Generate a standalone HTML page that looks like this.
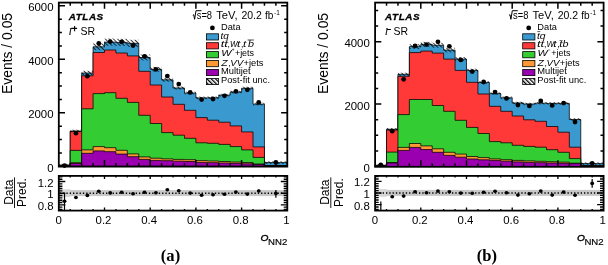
<!DOCTYPE html><html><head><meta charset="utf-8"><style>html,body{margin:0;padding:0;background:#fff;width:608px;height:265px;overflow:hidden}svg{display:block;filter:blur(0.28px)}text{fill:#000}</style></head><body><svg width="608" height="265" viewBox="0 0 608 265"><defs><pattern id="hatch" patternUnits="userSpaceOnUse" width="2.9" height="2.9" patternTransform="rotate(-45)"><rect x="0" y="0" width="0.75" height="2.9" fill="#000"/></pattern><pattern id="hatchL" patternUnits="userSpaceOnUse" width="3.0" height="3.0" patternTransform="rotate(-45)"><rect width="3" height="3" fill="#fff"/><rect x="0" y="0" width="1.3" height="3.0" fill="#000"/></pattern></defs><rect width="608" height="265" fill="#fff"/><path d="M58.8,166.3 L58.8,165.2 L70.22,165.2 L70.22,131 L81.65,131 L81.65,73 L93.08,73 L93.08,46.8 L104.5,46.8 L104.5,42.1 L115.92,42.1 L115.92,42.4 L127.35,42.4 L127.35,43.3 L138.78,43.3 L138.78,57.5 L150.2,57.5 L150.2,69.3 L161.62,69.3 L161.62,79.8 L173.05,79.8 L173.05,88 L184.48,88 L184.48,93 L195.9,93 L195.9,97.9 L207.32,97.9 L207.32,97.8 L218.75,97.8 L218.75,95.1 L230.18,95.1 L230.18,92.1 L241.6,92.1 L241.6,88.3 L253.03,88.3 L253.03,104.1 L264.45,104.1 L264.45,162.6 L287.3,162.6 L287.3,166.3 Z" fill="#3a9ad0" stroke="#000" stroke-width="0.75"/>
<path d="M58.8,166.3 L58.8,165.3 L70.22,165.3 L70.22,131.5 L81.65,131.5 L81.65,75.8 L93.08,75.8 L93.08,52.5 L104.5,52.5 L104.5,50 L115.92,50 L115.92,53 L127.35,53 L127.35,55.9 L138.78,55.9 L138.78,71.3 L150.2,71.3 L150.2,85 L161.62,85 L161.62,97 L173.05,97 L173.05,104.3 L184.48,104.3 L184.48,110.3 L195.9,110.3 L195.9,117.6 L207.32,117.6 L207.32,120.2 L218.75,120.2 L218.75,122.2 L230.18,122.2 L230.18,125.9 L241.6,125.9 L241.6,131.9 L253.03,131.9 L253.03,146.9 L264.45,146.9 L264.45,165.6 L287.3,165.6 L287.3,166.3 Z" fill="#ff3838" stroke="#000" stroke-width="0.75"/>
<path d="M58.8,166.3 L58.8,165.4 L70.22,165.4 L70.22,150.4 L81.65,150.4 L81.65,108.8 L93.08,108.8 L93.08,93.6 L104.5,93.6 L104.5,92.7 L115.92,92.7 L115.92,98.3 L127.35,98.3 L127.35,102.4 L138.78,102.4 L138.78,115.3 L150.2,115.3 L150.2,123.5 L161.62,123.5 L161.62,132.6 L173.05,132.6 L173.05,135.2 L184.48,135.2 L184.48,138.3 L195.9,138.3 L195.9,142.8 L207.32,142.8 L207.32,143.3 L218.75,143.3 L218.75,144.4 L230.18,144.4 L230.18,146.6 L241.6,146.6 L241.6,149.9 L253.03,149.9 L253.03,157.4 L264.45,157.4 L264.45,165.7 L287.3,165.7 L287.3,166.3 Z" fill="#33cc33" stroke="#000" stroke-width="0.75"/>
<path d="M58.8,166.3 L58.8,165.5 L70.22,165.5 L70.22,162.7 L81.65,162.7 L81.65,149.9 L93.08,149.9 L93.08,146.6 L104.5,146.6 L104.5,147.7 L115.92,147.7 L115.92,150.3 L127.35,150.3 L127.35,153.9 L138.78,153.9 L138.78,156.9 L150.2,156.9 L150.2,158.2 L161.62,158.2 L161.62,158.9 L173.05,158.9 L173.05,159.4 L184.48,159.4 L184.48,159.7 L195.9,159.7 L195.9,160.6 L207.32,160.6 L207.32,161 L218.75,161 L218.75,161.5 L230.18,161.5 L230.18,162 L241.6,162 L241.6,162.5 L253.03,162.5 L253.03,164 L264.45,164 L264.45,165.8 L287.3,165.8 L287.3,166.3 Z" fill="#ff9933" stroke="#000" stroke-width="0.75"/>
<path d="M58.8,166.3 L58.8,165.6 L70.22,165.6 L70.22,163.5 L81.65,163.5 L81.65,153.3 L93.08,153.3 L93.08,150.9 L104.5,150.9 L104.5,151.7 L115.92,151.7 L115.92,154.1 L127.35,154.1 L127.35,156.7 L138.78,156.7 L138.78,159.4 L150.2,159.4 L150.2,160.4 L161.62,160.4 L161.62,160.7 L173.05,160.7 L173.05,161.2 L184.48,161.2 L184.48,161.5 L195.9,161.5 L195.9,162.4 L207.32,162.4 L207.32,162.7 L218.75,162.7 L218.75,163 L230.18,163 L230.18,163.3 L241.6,163.3 L241.6,163.8 L253.03,163.8 L253.03,164.5 L264.45,164.5 L264.45,165.9 L287.3,165.9 L287.3,166.3 Z" fill="#9b00b0" stroke="#000" stroke-width="0.75"/>
<rect x="58.8" y="163.9" width="11.42" height="2.6" fill="url(#hatch)"/>
<rect x="70.22" y="129.7" width="11.43" height="2.6" fill="url(#hatch)"/>
<rect x="81.65" y="70.8" width="11.42" height="4.4" fill="url(#hatch)"/>
<rect x="93.08" y="43.42" width="11.42" height="6.76" fill="url(#hatch)"/>
<rect x="104.5" y="38.51" width="11.42" height="7.18" fill="url(#hatch)"/>
<rect x="115.92" y="38.82" width="11.43" height="7.15" fill="url(#hatch)"/>
<rect x="127.35" y="39.77" width="11.42" height="7.07" fill="url(#hatch)"/>
<rect x="138.78" y="54.6" width="11.42" height="5.79" fill="url(#hatch)"/>
<rect x="150.2" y="66.94" width="11.43" height="4.73" fill="url(#hatch)"/>
<rect x="161.62" y="77.91" width="11.43" height="3.79" fill="url(#hatch)"/>
<rect x="173.05" y="86.48" width="11.43" height="3.05" fill="url(#hatch)"/>
<rect x="184.48" y="91.7" width="11.43" height="2.6" fill="url(#hatch)"/>
<rect x="195.9" y="96.6" width="11.42" height="2.6" fill="url(#hatch)"/>
<rect x="207.32" y="96.5" width="11.43" height="2.6" fill="url(#hatch)"/>
<rect x="218.75" y="93.8" width="11.43" height="2.6" fill="url(#hatch)"/>
<rect x="230.18" y="90.76" width="11.43" height="2.68" fill="url(#hatch)"/>
<rect x="241.6" y="86.79" width="11.43" height="3.02" fill="url(#hatch)"/>
<rect x="253.03" y="102.8" width="11.42" height="2.6" fill="url(#hatch)"/>
<rect x="264.45" y="161.3" width="22.85" height="2.6" fill="url(#hatch)"/>
<circle cx="64.51" cy="165.6" r="2.4" fill="#000"/>
<circle cx="75.94" cy="133.2" r="2.4" fill="#000"/>
<circle cx="87.36" cy="76.2" r="2.4" fill="#000"/>
<circle cx="98.79" cy="43.5" r="2.4" fill="#000"/>
<circle cx="110.21" cy="41.6" r="2.4" fill="#000"/>
<circle cx="121.64" cy="41.9" r="2.4" fill="#000"/>
<circle cx="133.06" cy="45.5" r="2.4" fill="#000"/>
<circle cx="144.49" cy="56.4" r="2.4" fill="#000"/>
<circle cx="155.91" cy="69.3" r="2.4" fill="#000"/>
<circle cx="167.34" cy="76.1" r="2.4" fill="#000"/>
<circle cx="178.76" cy="84.1" r="2.4" fill="#000"/>
<circle cx="190.19" cy="92.4" r="2.4" fill="#000"/>
<circle cx="201.61" cy="99.6" r="2.4" fill="#000"/>
<circle cx="213.04" cy="99" r="2.4" fill="#000"/>
<circle cx="224.46" cy="95.8" r="2.4" fill="#000"/>
<circle cx="235.89" cy="91.3" r="2.4" fill="#000"/>
<circle cx="247.31" cy="89.8" r="2.4" fill="#000"/>
<circle cx="258.74" cy="102.3" r="2.4" fill="#000"/>
<circle cx="275.88" cy="162.4" r="2.4" fill="#000"/>
<rect x="58.8" y="2.6" width="228.5" height="164" fill="none" stroke="#000" stroke-width="1.8"/>
<path d="M70.22,166.3v-3.1 M70.22,2.6v3.1 M81.65,166.3v-3.1 M81.65,2.6v3.1 M93.08,166.3v-3.1 M93.08,2.6v3.1 M104.5,166.3v-6.2 M104.5,2.6v6.2 M115.92,166.3v-3.1 M115.92,2.6v3.1 M127.35,166.3v-3.1 M127.35,2.6v3.1 M138.78,166.3v-3.1 M138.78,2.6v3.1 M150.2,166.3v-6.2 M150.2,2.6v6.2 M161.62,166.3v-3.1 M161.62,2.6v3.1 M173.05,166.3v-3.1 M173.05,2.6v3.1 M184.48,166.3v-3.1 M184.48,2.6v3.1 M195.9,166.3v-6.2 M195.9,2.6v6.2 M207.32,166.3v-3.1 M207.32,2.6v3.1 M218.75,166.3v-3.1 M218.75,2.6v3.1 M230.18,166.3v-3.1 M230.18,2.6v3.1 M241.6,166.3v-6.2 M241.6,2.6v6.2 M253.03,166.3v-3.1 M253.03,2.6v3.1 M264.45,166.3v-3.1 M264.45,2.6v3.1 M275.88,166.3v-3.1 M275.88,2.6v3.1 M58.8,152.93h3.1 M287.3,152.93h-3.1 M58.8,139.55h3.1 M287.3,139.55h-3.1 M58.8,126.18h3.1 M287.3,126.18h-3.1 M58.8,112.8h6.2 M287.3,112.8h-6.2 M58.8,99.43h3.1 M287.3,99.43h-3.1 M58.8,86.05h3.1 M287.3,86.05h-3.1 M58.8,72.68h3.1 M287.3,72.68h-3.1 M58.8,59.3h6.2 M287.3,59.3h-6.2 M58.8,45.93h3.1 M287.3,45.93h-3.1 M58.8,32.55h3.1 M287.3,32.55h-3.1 M58.8,19.18h3.1 M287.3,19.18h-3.1 M58.8,5.8h6.2 M287.3,5.8h-6.2" stroke="#000" stroke-width="1.5" fill="none"/>
<rect x="58.8" y="190.1" width="228.5" height="6" fill="#c8c8c8"/>
<rect x="58.8" y="189.3" width="11.43" height="7.7" fill="#d6d6d6"/>
<line x1="59.8" y1="193.2" x2="287.3" y2="193.2" stroke="#000" stroke-width="1.35" stroke-dasharray="1.3 2.0"/>
<line x1="64.51" y1="193.2" x2="64.51" y2="210.6" stroke="#000" stroke-width="1.2"/>
<ellipse cx="64.51" cy="201.3" rx="1.95" ry="1.8" fill="#000"/>
<ellipse cx="75.94" cy="197.5" rx="1.95" ry="1.8" fill="#000"/>
<ellipse cx="87.36" cy="195.4" rx="1.95" ry="1.8" fill="#000"/>
<ellipse cx="98.79" cy="191.2" rx="1.95" ry="1.8" fill="#000"/>
<ellipse cx="110.21" cy="192.9" rx="1.95" ry="1.8" fill="#000"/>
<ellipse cx="121.64" cy="192.3" rx="1.95" ry="1.8" fill="#000"/>
<ellipse cx="133.06" cy="193.7" rx="1.95" ry="1.8" fill="#000"/>
<ellipse cx="144.49" cy="192.3" rx="1.95" ry="1.8" fill="#000"/>
<ellipse cx="155.91" cy="192.7" rx="1.95" ry="1.8" fill="#000"/>
<ellipse cx="167.34" cy="189.8" rx="1.95" ry="1.8" fill="#000"/>
<ellipse cx="178.76" cy="190.7" rx="1.95" ry="1.8" fill="#000"/>
<ellipse cx="190.19" cy="193.1" rx="1.95" ry="1.8" fill="#000"/>
<ellipse cx="201.61" cy="195.3" rx="1.95" ry="1.8" fill="#000"/>
<ellipse cx="213.04" cy="194.7" rx="1.95" ry="1.8" fill="#000"/>
<ellipse cx="224.46" cy="194.3" rx="1.95" ry="1.8" fill="#000"/>
<ellipse cx="235.89" cy="192.1" rx="1.95" ry="1.8" fill="#000"/>
<ellipse cx="247.31" cy="194.1" rx="1.95" ry="1.8" fill="#000"/>
<line x1="258.74" y1="189.6" x2="258.74" y2="192" stroke="#000" stroke-width="1.2"/>
<ellipse cx="258.74" cy="191" rx="1.95" ry="1.8" fill="#000"/>
<line x1="275.88" y1="190.1" x2="275.88" y2="197.8" stroke="#000" stroke-width="1.2"/>
<ellipse cx="275.88" cy="193.4" rx="1.95" ry="1.8" fill="#000"/>
<rect x="58.8" y="175.9" width="228.5" height="34.7" fill="none" stroke="#000" stroke-width="1.8"/>
<path d="M70.22,210.6v-1.6 M70.22,175.9v1.6 M81.65,210.6v-1.6 M81.65,175.9v1.6 M93.08,210.6v-1.6 M93.08,175.9v1.6 M104.5,210.6v-3 M104.5,175.9v3 M115.92,210.6v-1.6 M115.92,175.9v1.6 M127.35,210.6v-1.6 M127.35,175.9v1.6 M138.78,210.6v-1.6 M138.78,175.9v1.6 M150.2,210.6v-3 M150.2,175.9v3 M161.62,210.6v-1.6 M161.62,175.9v1.6 M173.05,210.6v-1.6 M173.05,175.9v1.6 M184.48,210.6v-1.6 M184.48,175.9v1.6 M195.9,210.6v-3 M195.9,175.9v3 M207.32,210.6v-1.6 M207.32,175.9v1.6 M218.75,210.6v-1.6 M218.75,175.9v1.6 M230.18,210.6v-1.6 M230.18,175.9v1.6 M241.6,210.6v-3 M241.6,175.9v3 M253.03,210.6v-1.6 M253.03,175.9v1.6 M264.45,210.6v-1.6 M264.45,175.9v1.6 M275.88,210.6v-1.6 M275.88,175.9v1.6 M58.8,209.52h3.6 M287.3,209.52h-3.6 M58.8,207.19h3.6 M287.3,207.19h-3.6 M58.8,204.86h6.5 M287.3,204.86h-6.5 M58.8,202.53h3.6 M287.3,202.53h-3.6 M58.8,200.2h3.6 M287.3,200.2h-3.6 M58.8,197.86h3.6 M287.3,197.86h-3.6 M58.8,195.53h3.6 M287.3,195.53h-3.6 M58.8,193.2h6.5 M287.3,193.2h-6.5 M58.8,190.87h3.6 M287.3,190.87h-3.6 M58.8,188.54h3.6 M287.3,188.54h-3.6 M58.8,186.2h3.6 M287.3,186.2h-3.6 M58.8,183.87h3.6 M287.3,183.87h-3.6 M58.8,181.54h6.5 M287.3,181.54h-6.5 M58.8,179.21h3.6 M287.3,179.21h-3.6 M58.8,176.88h3.6 M287.3,176.88h-3.6" stroke="#000" stroke-width="1.35" fill="none"/>
<text x="53.5" y="171.9" font-size="11.4" text-anchor="end" font-family="Liberation Sans, sans-serif">0</text>
<text x="53.5" y="118.4" font-size="11.4" text-anchor="end" font-family="Liberation Sans, sans-serif">2000</text>
<text x="53.5" y="64.9" font-size="11.4" text-anchor="end" font-family="Liberation Sans, sans-serif">4000</text>
<text x="53.5" y="11.4" font-size="11.4" text-anchor="end" font-family="Liberation Sans, sans-serif">6000</text>
<text x="53.5" y="186.54" font-size="11.4" text-anchor="end" font-family="Liberation Sans, sans-serif">1.2</text>
<text x="53.5" y="198.2" font-size="11.4" text-anchor="end" font-family="Liberation Sans, sans-serif">1</text>
<text x="53.5" y="210.16" font-size="11.4" text-anchor="end" font-family="Liberation Sans, sans-serif">0.8</text>
<text x="58.6" y="224.4" font-size="11.4" text-anchor="middle" font-family="Liberation Sans, sans-serif">0</text>
<text x="103.5" y="224.4" font-size="11.4" text-anchor="middle" font-family="Liberation Sans, sans-serif">0.2</text>
<text x="149.2" y="224.4" font-size="11.4" text-anchor="middle" font-family="Liberation Sans, sans-serif">0.4</text>
<text x="194.9" y="224.4" font-size="11.4" text-anchor="middle" font-family="Liberation Sans, sans-serif">0.6</text>
<text x="240.6" y="224.4" font-size="11.4" text-anchor="middle" font-family="Liberation Sans, sans-serif">0.8</text>
<text x="286.3" y="224.4" font-size="11.4" text-anchor="middle" font-family="Liberation Sans, sans-serif">1</text>
<text transform="translate(11.9,94.0) rotate(-90)" font-size="14" textLength="81.1" lengthAdjust="spacingAndGlyphs" font-family="Liberation Sans, sans-serif">Events / 0.05</text>
<text transform="translate(12.6,192.2) rotate(-90)" font-size="12" text-anchor="middle" font-family="Liberation Sans, sans-serif">Data</text>
<line x1="14.5" y1="177.4" x2="14.5" y2="208.0" stroke="#000" stroke-width="0.9"/>
<text transform="translate(26.3,192.6) rotate(-90)" font-size="12" text-anchor="middle" font-family="Liberation Sans, sans-serif">Pred.</text>
<text x="68.8" y="19.6" font-size="9.9" font-weight="bold" font-style="italic" textLength="34.4" lengthAdjust="spacing" stroke="#000" stroke-width="0.3" font-family="Liberation Sans, sans-serif">ATLAS</text>
<text x="68.7" y="35.2" font-size="10.2" font-style="italic" font-family="Liberation Serif, serif" stroke="#000" stroke-width="0.15">l</text>
<path d="M71.2,28.4 H77.1 M74.6,25.9 V31.3" stroke="#000" stroke-width="1.1" fill="none"/>
<text x="80.5" y="35.0" font-size="10.4" textLength="14.6" lengthAdjust="spacingAndGlyphs" font-family="Liberation Sans, sans-serif">SR</text>
<path d="M192.8,15.3 L193.7,14.7 L194.6,19.3 L196,10.7 L201.5,10.7" fill="none" stroke="#000" stroke-width="1.0"/>
<text x="196.7" y="19.3" font-size="10.2" textLength="15.4" lengthAdjust="spacingAndGlyphs" font-family="Liberation Sans, sans-serif" >s=8</text>
<text x="216.2" y="19.3" font-size="10.2" textLength="21.3" lengthAdjust="spacingAndGlyphs" font-family="Liberation Sans, sans-serif" >TeV,</text>
<text x="241.4" y="19.3" font-size="10.2" textLength="20.4" lengthAdjust="spacingAndGlyphs" font-family="Liberation Sans, sans-serif" >20.2</text>
<text x="264.9" y="19.3" font-size="10.2" textLength="8.4" lengthAdjust="spacingAndGlyphs" font-family="Liberation Sans, sans-serif" >fb</text>
<text x="274" y="14.5" font-size="6.4" font-family="Liberation Sans, sans-serif">-1</text>
<circle cx="212.4" cy="27.9" r="2.4" fill="#000"/>
<rect x="206.4" y="33.8" width="12.2" height="6.2" fill="#3a9ad0" stroke="#000" stroke-width="0.8"/>
<rect x="206.4" y="42.7" width="12.2" height="6.2" fill="#ff3838" stroke="#000" stroke-width="0.8"/>
<rect x="206.4" y="51.6" width="12.2" height="6.2" fill="#33cc33" stroke="#000" stroke-width="0.8"/>
<rect x="206.4" y="60.5" width="12.2" height="6.2" fill="#ff9933" stroke="#000" stroke-width="0.8"/>
<rect x="206.4" y="69.4" width="12.2" height="6.2" fill="#9b00b0" stroke="#000" stroke-width="0.8"/>
<rect x="206.4" y="78.4" width="12.2" height="6.2" fill="url(#hatchL)" stroke="#000" stroke-width="0.8"/>
<text x="221" y="29.6" font-size="9" textLength="19.6" lengthAdjust="spacingAndGlyphs" font-family="Liberation Sans, sans-serif" >Data</text>
<text x="220.6" y="38.6" font-size="9" textLength="8.3" lengthAdjust="spacingAndGlyphs" font-family="Liberation Sans, sans-serif" font-style="italic">tq</text>
<text x="220.7" y="47" font-size="9" textLength="3.6" lengthAdjust="spacingAndGlyphs" font-family="Liberation Sans, sans-serif" font-style="italic">t</text>
<text x="224.3" y="47" font-size="9" textLength="3.6" lengthAdjust="spacingAndGlyphs" font-family="Liberation Sans, sans-serif" font-style="italic">t</text>
<text x="227.6" y="47" font-size="9" textLength="2.4" lengthAdjust="spacingAndGlyphs" font-family="Liberation Sans, sans-serif" >,</text>
<text x="230.1" y="47" font-size="9" textLength="7.6" lengthAdjust="spacingAndGlyphs" font-family="Liberation Sans, sans-serif" font-style="italic">W</text>
<text x="236.9" y="47" font-size="9" textLength="3.3" lengthAdjust="spacingAndGlyphs" font-family="Liberation Sans, sans-serif" font-style="italic">t</text>
<text x="240.9" y="47" font-size="9" textLength="2.4" lengthAdjust="spacingAndGlyphs" font-family="Liberation Sans, sans-serif" >,</text>
<text x="243" y="47" font-size="9" textLength="3.2" lengthAdjust="spacingAndGlyphs" font-family="Liberation Sans, sans-serif" font-style="italic">t</text>
<text x="247.9" y="47" font-size="9" textLength="6" lengthAdjust="spacingAndGlyphs" font-family="Liberation Sans, sans-serif" font-style="italic">b</text>
<line x1="247.6" y1="40.0" x2="253.9" y2="40.0" stroke="#333" stroke-width="0.9"/>
<line x1="225" y1="41.0" x2="228" y2="41.0" stroke="#888" stroke-width="0.5"/>
<text x="221.3" y="56.3" font-size="9" textLength="10.2" lengthAdjust="spacingAndGlyphs" font-family="Liberation Sans, sans-serif" font-style="italic">W</text>
<text x="231.8" y="51.3" font-size="4.6" font-family="Liberation Sans, sans-serif">+</text>
<text x="234.9" y="56.3" font-size="9" textLength="19.2" lengthAdjust="spacingAndGlyphs" font-family="Liberation Sans, sans-serif" >+jets</text>
<text x="221.3" y="65.5" font-size="9" textLength="6.4" lengthAdjust="spacingAndGlyphs" font-family="Liberation Sans, sans-serif" font-style="italic">Z</text>
<text x="228.2" y="65.5" font-size="9" textLength="2.4" lengthAdjust="spacingAndGlyphs" font-family="Liberation Sans, sans-serif" >,</text>
<text x="230.3" y="65.5" font-size="9" textLength="13" lengthAdjust="spacingAndGlyphs" font-family="Liberation Sans, sans-serif" font-style="italic">VV</text>
<text x="243.5" y="65.5" font-size="9" textLength="20" lengthAdjust="spacingAndGlyphs" font-family="Liberation Sans, sans-serif" >+jets</text>
<text x="221" y="74.1" font-size="9" textLength="29.6" lengthAdjust="spacingAndGlyphs" font-family="Liberation Sans, sans-serif" >Multijet</text>
<text x="221" y="83" font-size="9" textLength="49" lengthAdjust="spacingAndGlyphs" font-family="Liberation Sans, sans-serif" >Post-fit unc.</text>
<text x="260.6" y="240.5" font-size="9.8" font-style="italic" textLength="7.9" lengthAdjust="spacingAndGlyphs" stroke="#000" stroke-width="0.4" font-family="Liberation Sans, sans-serif">O</text>
<text x="268.1" y="245.2" font-size="8.3" textLength="19.2" lengthAdjust="spacingAndGlyphs" stroke="#000" stroke-width="0.15" font-family="Liberation Sans, sans-serif">NN2</text>
<text x="170.5" y="260.6" font-size="16.6" font-weight="bold" text-anchor="middle" font-family="Liberation Serif, serif">(a)</text>
<path d="M375.1,166.5 L375.1,165.3 L386.53,165.3 L386.53,129.3 L397.95,129.3 L397.95,74.3 L409.38,74.3 L409.38,46.6 L420.8,46.6 L420.8,44.3 L432.23,44.3 L432.23,45.3 L443.65,45.3 L443.65,50.1 L455.08,50.1 L455.08,59.1 L466.5,59.1 L466.5,70.4 L477.93,70.4 L477.93,82.5 L489.35,82.5 L489.35,93.6 L500.78,93.6 L500.78,97.8 L512.2,97.8 L512.2,103 L523.62,103 L523.62,104 L535.05,104 L535.05,103.2 L546.48,103.2 L546.48,103.4 L557.9,103.4 L557.9,103.4 L569.33,103.4 L569.33,119.5 L580.75,119.5 L580.75,163.6 L603.6,163.6 L603.6,166.5 Z" fill="#3a9ad0" stroke="#000" stroke-width="0.75"/>
<path d="M375.1,166.5 L375.1,165.4 L386.53,165.4 L386.53,130 L397.95,130 L397.95,76.3 L409.38,76.3 L409.38,52.6 L420.8,52.6 L420.8,51.1 L432.23,51.1 L432.23,53.1 L443.65,53.1 L443.65,59.1 L455.08,59.1 L455.08,70.4 L466.5,70.4 L466.5,82.3 L477.93,82.3 L477.93,94 L489.35,94 L489.35,106.3 L500.78,106.3 L500.78,111.3 L512.2,111.3 L512.2,116 L523.62,116 L523.62,119.8 L535.05,119.8 L535.05,121.3 L546.48,121.3 L546.48,126.5 L557.9,126.5 L557.9,132.2 L569.33,132.2 L569.33,147.2 L580.75,147.2 L580.75,165.6 L603.6,165.6 L603.6,166.5 Z" fill="#ff3838" stroke="#000" stroke-width="0.75"/>
<path d="M375.1,166.5 L375.1,165.5 L386.53,165.5 L386.53,152.1 L397.95,152.1 L397.95,114.6 L409.38,114.6 L409.38,99.5 L420.8,99.5 L420.8,99.5 L432.23,99.5 L432.23,105.5 L443.65,105.5 L443.65,111.3 L455.08,111.3 L455.08,120.3 L466.5,120.3 L466.5,127.4 L477.93,127.4 L477.93,133.5 L489.35,133.5 L489.35,141.6 L500.78,141.6 L500.78,142.8 L512.2,142.8 L512.2,145.3 L523.62,145.3 L523.62,146.4 L535.05,146.4 L535.05,147.2 L546.48,147.2 L546.48,149.7 L557.9,149.7 L557.9,152.3 L569.33,152.3 L569.33,158.6 L580.75,158.6 L580.75,165.7 L603.6,165.7 L603.6,166.5 Z" fill="#33cc33" stroke="#000" stroke-width="0.75"/>
<path d="M375.1,166.5 L375.1,165.6 L386.53,165.6 L386.53,162.5 L397.95,162.5 L397.95,147.4 L409.38,147.4 L409.38,143.5 L420.8,143.5 L420.8,145.9 L432.23,145.9 L432.23,148.8 L443.65,148.8 L443.65,152.3 L455.08,152.3 L455.08,154.1 L466.5,154.1 L466.5,156.5 L477.93,156.5 L477.93,157.6 L489.35,157.6 L489.35,158.9 L500.78,158.9 L500.78,159.7 L512.2,159.7 L512.2,160.4 L523.62,160.4 L523.62,160.9 L535.05,160.9 L535.05,161.3 L546.48,161.3 L546.48,161.7 L557.9,161.7 L557.9,162.1 L569.33,162.1 L569.33,163.2 L580.75,163.2 L580.75,165.8 L603.6,165.8 L603.6,166.5 Z" fill="#ff9933" stroke="#000" stroke-width="0.75"/>
<path d="M375.1,166.5 L375.1,165.7 L386.53,165.7 L386.53,163 L397.95,163 L397.95,150.4 L409.38,150.4 L409.38,147.4 L420.8,147.4 L420.8,149.6 L432.23,149.6 L432.23,152.3 L443.65,152.3 L443.65,155.4 L455.08,155.4 L455.08,157.2 L466.5,157.2 L466.5,159 L477.93,159 L477.93,159.8 L489.35,159.8 L489.35,160.4 L500.78,160.4 L500.78,161.2 L512.2,161.2 L512.2,161.9 L523.62,161.9 L523.62,162.4 L535.05,162.4 L535.05,162.7 L546.48,162.7 L546.48,163 L557.9,163 L557.9,163.3 L569.33,163.3 L569.33,163.6 L580.75,163.6 L580.75,165.9 L603.6,165.9 L603.6,166.5 Z" fill="#9b00b0" stroke="#000" stroke-width="0.75"/>
<rect x="375.1" y="164.1" width="11.43" height="2.4" fill="url(#hatch)"/>
<rect x="386.53" y="128.1" width="11.43" height="2.4" fill="url(#hatch)"/>
<rect x="397.95" y="72.73" width="11.42" height="3.13" fill="url(#hatch)"/>
<rect x="409.38" y="44.2" width="11.43" height="4.79" fill="url(#hatch)"/>
<rect x="420.8" y="41.83" width="11.43" height="4.93" fill="url(#hatch)"/>
<rect x="432.23" y="42.86" width="11.43" height="4.87" fill="url(#hatch)"/>
<rect x="443.65" y="47.81" width="11.43" height="4.58" fill="url(#hatch)"/>
<rect x="455.08" y="57.08" width="11.42" height="4.04" fill="url(#hatch)"/>
<rect x="466.5" y="68.72" width="11.43" height="3.37" fill="url(#hatch)"/>
<rect x="477.93" y="81.18" width="11.43" height="2.64" fill="url(#hatch)"/>
<rect x="489.35" y="92.4" width="11.43" height="2.4" fill="url(#hatch)"/>
<rect x="500.78" y="96.6" width="11.43" height="2.4" fill="url(#hatch)"/>
<rect x="512.2" y="101.8" width="11.42" height="2.4" fill="url(#hatch)"/>
<rect x="523.62" y="102.8" width="11.43" height="2.4" fill="url(#hatch)"/>
<rect x="535.05" y="102" width="11.42" height="2.4" fill="url(#hatch)"/>
<rect x="546.48" y="102.2" width="11.43" height="2.4" fill="url(#hatch)"/>
<rect x="557.9" y="102.2" width="11.42" height="2.4" fill="url(#hatch)"/>
<rect x="569.33" y="118.3" width="11.42" height="2.4" fill="url(#hatch)"/>
<rect x="580.75" y="162.4" width="22.85" height="2.4" fill="url(#hatch)"/>
<circle cx="380.81" cy="164.9" r="2.4" fill="#000"/>
<circle cx="392.24" cy="131.2" r="2.4" fill="#000"/>
<circle cx="403.66" cy="79.3" r="2.4" fill="#000"/>
<circle cx="415.09" cy="45.8" r="2.4" fill="#000"/>
<circle cx="426.51" cy="44.6" r="2.4" fill="#000"/>
<circle cx="437.94" cy="41.8" r="2.4" fill="#000"/>
<circle cx="449.36" cy="46.3" r="2.4" fill="#000"/>
<circle cx="460.79" cy="59.9" r="2.4" fill="#000"/>
<circle cx="472.21" cy="71.6" r="2.4" fill="#000"/>
<circle cx="483.64" cy="82" r="2.4" fill="#000"/>
<circle cx="495.06" cy="92.1" r="2.4" fill="#000"/>
<circle cx="506.49" cy="98.4" r="2.4" fill="#000"/>
<circle cx="517.91" cy="105" r="2.4" fill="#000"/>
<circle cx="529.34" cy="105.9" r="2.4" fill="#000"/>
<circle cx="540.76" cy="100.9" r="2.4" fill="#000"/>
<circle cx="552.19" cy="105.4" r="2.4" fill="#000"/>
<circle cx="563.61" cy="103.1" r="2.4" fill="#000"/>
<circle cx="575.04" cy="122" r="2.4" fill="#000"/>
<circle cx="592.17" cy="163.3" r="2.4" fill="#000"/>
<rect x="375.1" y="2.6" width="228.5" height="164.2" fill="none" stroke="#000" stroke-width="1.8"/>
<path d="M386.53,166.5v-3.1 M386.53,2.6v3.1 M397.95,166.5v-3.1 M397.95,2.6v3.1 M409.38,166.5v-3.1 M409.38,2.6v3.1 M420.8,166.5v-6.2 M420.8,2.6v6.2 M432.23,166.5v-3.1 M432.23,2.6v3.1 M443.65,166.5v-3.1 M443.65,2.6v3.1 M455.08,166.5v-3.1 M455.08,2.6v3.1 M466.5,166.5v-6.2 M466.5,2.6v6.2 M477.93,166.5v-3.1 M477.93,2.6v3.1 M489.35,166.5v-3.1 M489.35,2.6v3.1 M500.78,166.5v-3.1 M500.78,2.6v3.1 M512.2,166.5v-6.2 M512.2,2.6v6.2 M523.62,166.5v-3.1 M523.62,2.6v3.1 M535.05,166.5v-3.1 M535.05,2.6v3.1 M546.48,166.5v-3.1 M546.48,2.6v3.1 M557.9,166.5v-6.2 M557.9,2.6v6.2 M569.33,166.5v-3.1 M569.33,2.6v3.1 M580.75,166.5v-3.1 M580.75,2.6v3.1 M592.18,166.5v-3.1 M592.18,2.6v3.1 M375.1,150.9h3.1 M603.6,150.9h-3.1 M375.1,135.3h3.1 M603.6,135.3h-3.1 M375.1,119.7h3.1 M603.6,119.7h-3.1 M375.1,104.1h6.2 M603.6,104.1h-6.2 M375.1,88.5h3.1 M603.6,88.5h-3.1 M375.1,72.9h3.1 M603.6,72.9h-3.1 M375.1,57.3h3.1 M603.6,57.3h-3.1 M375.1,41.7h6.2 M603.6,41.7h-6.2 M375.1,26.1h3.1 M603.6,26.1h-3.1 M375.1,10.5h3.1 M603.6,10.5h-3.1" stroke="#000" stroke-width="1.5" fill="none"/>
<rect x="375.1" y="189.9" width="228.5" height="6" fill="#c8c8c8"/>
<rect x="375.1" y="189.1" width="11.43" height="7.7" fill="#d6d6d6"/>
<line x1="376.1" y1="193" x2="603.6" y2="193" stroke="#000" stroke-width="1.35" stroke-dasharray="1.3 2.0"/>
<line x1="380.81" y1="201.6" x2="380.81" y2="210.6" stroke="#000" stroke-width="1.2"/>
<ellipse cx="392.24" cy="196.7" rx="1.95" ry="1.8" fill="#000"/>
<ellipse cx="403.66" cy="196.1" rx="1.95" ry="1.8" fill="#000"/>
<ellipse cx="415.09" cy="191.7" rx="1.95" ry="1.8" fill="#000"/>
<ellipse cx="426.51" cy="192.7" rx="1.95" ry="1.8" fill="#000"/>
<ellipse cx="437.94" cy="191.1" rx="1.95" ry="1.8" fill="#000"/>
<ellipse cx="449.36" cy="191.7" rx="1.95" ry="1.8" fill="#000"/>
<ellipse cx="460.79" cy="193.1" rx="1.95" ry="1.8" fill="#000"/>
<ellipse cx="472.21" cy="193.3" rx="1.95" ry="1.8" fill="#000"/>
<ellipse cx="483.64" cy="192.3" rx="1.95" ry="1.8" fill="#000"/>
<ellipse cx="495.06" cy="191.3" rx="1.95" ry="1.8" fill="#000"/>
<ellipse cx="506.49" cy="192.7" rx="1.95" ry="1.8" fill="#000"/>
<ellipse cx="517.91" cy="195.1" rx="1.95" ry="1.8" fill="#000"/>
<ellipse cx="529.34" cy="193.7" rx="1.95" ry="1.8" fill="#000"/>
<ellipse cx="540.76" cy="191.1" rx="1.95" ry="1.8" fill="#000"/>
<ellipse cx="552.19" cy="195.1" rx="1.95" ry="1.8" fill="#000"/>
<ellipse cx="563.61" cy="192.1" rx="1.95" ry="1.8" fill="#000"/>
<ellipse cx="575.04" cy="195.3" rx="1.95" ry="1.8" fill="#000"/>
<line x1="592.17" y1="178.9" x2="592.17" y2="187.8" stroke="#000" stroke-width="1.2"/>
<ellipse cx="592.17" cy="183.4" rx="1.95" ry="1.8" fill="#000"/>
<rect x="375.1" y="175.9" width="228.5" height="34.7" fill="none" stroke="#000" stroke-width="1.8"/>
<path d="M386.53,210.6v-1.6 M386.53,175.9v1.6 M397.95,210.6v-1.6 M397.95,175.9v1.6 M409.38,210.6v-1.6 M409.38,175.9v1.6 M420.8,210.6v-3 M420.8,175.9v3 M432.23,210.6v-1.6 M432.23,175.9v1.6 M443.65,210.6v-1.6 M443.65,175.9v1.6 M455.08,210.6v-1.6 M455.08,175.9v1.6 M466.5,210.6v-3 M466.5,175.9v3 M477.93,210.6v-1.6 M477.93,175.9v1.6 M489.35,210.6v-1.6 M489.35,175.9v1.6 M500.78,210.6v-1.6 M500.78,175.9v1.6 M512.2,210.6v-3 M512.2,175.9v3 M523.62,210.6v-1.6 M523.62,175.9v1.6 M535.05,210.6v-1.6 M535.05,175.9v1.6 M546.48,210.6v-1.6 M546.48,175.9v1.6 M557.9,210.6v-3 M557.9,175.9v3 M569.33,210.6v-1.6 M569.33,175.9v1.6 M580.75,210.6v-1.6 M580.75,175.9v1.6 M592.18,210.6v-1.6 M592.18,175.9v1.6 M375.1,209.32h3.6 M603.6,209.32h-3.6 M375.1,206.99h3.6 M603.6,206.99h-3.6 M375.1,204.66h6.5 M603.6,204.66h-6.5 M375.1,202.33h3.6 M603.6,202.33h-3.6 M375.1,200h3.6 M603.6,200h-3.6 M375.1,197.66h3.6 M603.6,197.66h-3.6 M375.1,195.33h3.6 M603.6,195.33h-3.6 M375.1,193h6.5 M603.6,193h-6.5 M375.1,190.67h3.6 M603.6,190.67h-3.6 M375.1,188.34h3.6 M603.6,188.34h-3.6 M375.1,186h3.6 M603.6,186h-3.6 M375.1,183.67h3.6 M603.6,183.67h-3.6 M375.1,181.34h6.5 M603.6,181.34h-6.5 M375.1,179.01h3.6 M603.6,179.01h-3.6 M375.1,176.68h3.6 M603.6,176.68h-3.6" stroke="#000" stroke-width="1.35" fill="none"/>
<text x="369.8" y="172.1" font-size="11.4" text-anchor="end" font-family="Liberation Sans, sans-serif">0</text>
<text x="369.8" y="109.7" font-size="11.4" text-anchor="end" font-family="Liberation Sans, sans-serif">2000</text>
<text x="369.8" y="47.3" font-size="11.4" text-anchor="end" font-family="Liberation Sans, sans-serif">4000</text>
<text x="369.8" y="186.34" font-size="11.4" text-anchor="end" font-family="Liberation Sans, sans-serif">1.2</text>
<text x="369.8" y="198" font-size="11.4" text-anchor="end" font-family="Liberation Sans, sans-serif">1</text>
<text x="369.8" y="209.96" font-size="11.4" text-anchor="end" font-family="Liberation Sans, sans-serif">0.8</text>
<text x="374.9" y="224.4" font-size="11.4" text-anchor="middle" font-family="Liberation Sans, sans-serif">0</text>
<text x="419.8" y="224.4" font-size="11.4" text-anchor="middle" font-family="Liberation Sans, sans-serif">0.2</text>
<text x="465.5" y="224.4" font-size="11.4" text-anchor="middle" font-family="Liberation Sans, sans-serif">0.4</text>
<text x="511.2" y="224.4" font-size="11.4" text-anchor="middle" font-family="Liberation Sans, sans-serif">0.6</text>
<text x="556.9" y="224.4" font-size="11.4" text-anchor="middle" font-family="Liberation Sans, sans-serif">0.8</text>
<text x="602.6" y="224.4" font-size="11.4" text-anchor="middle" font-family="Liberation Sans, sans-serif">1</text>
<text transform="translate(328.2,94.0) rotate(-90)" font-size="14" textLength="81.1" lengthAdjust="spacingAndGlyphs" font-family="Liberation Sans, sans-serif">Events / 0.05</text>
<text transform="translate(328.9,192.2) rotate(-90)" font-size="12" text-anchor="middle" font-family="Liberation Sans, sans-serif">Data</text>
<line x1="330.8" y1="177.4" x2="330.8" y2="208.0" stroke="#000" stroke-width="0.9"/>
<text transform="translate(342.6,192.6) rotate(-90)" font-size="12" text-anchor="middle" font-family="Liberation Sans, sans-serif">Pred.</text>
<text x="385.1" y="19.6" font-size="9.9" font-weight="bold" font-style="italic" textLength="34.4" lengthAdjust="spacing" stroke="#000" stroke-width="0.3" font-family="Liberation Sans, sans-serif">ATLAS</text>
<text x="385" y="35.2" font-size="10.2" font-style="italic" font-family="Liberation Serif, serif" stroke="#000" stroke-width="0.15">l</text>
<line x1="387.1" y1="29.5" x2="390.9" y2="29.5" stroke="#000" stroke-width="1.0"/>
<text x="393.5" y="35.0" font-size="10.4" textLength="14.6" lengthAdjust="spacingAndGlyphs" font-family="Liberation Sans, sans-serif">SR</text>
<path d="M509.1,15.3 L510,14.7 L510.9,19.3 L512.3,10.7 L517.8,10.7" fill="none" stroke="#000" stroke-width="1.0"/>
<text x="513" y="19.3" font-size="10.2" textLength="15.4" lengthAdjust="spacingAndGlyphs" font-family="Liberation Sans, sans-serif" >s=8</text>
<text x="532.5" y="19.3" font-size="10.2" textLength="21.3" lengthAdjust="spacingAndGlyphs" font-family="Liberation Sans, sans-serif" >TeV,</text>
<text x="557.7" y="19.3" font-size="10.2" textLength="20.4" lengthAdjust="spacingAndGlyphs" font-family="Liberation Sans, sans-serif" >20.2</text>
<text x="581.2" y="19.3" font-size="10.2" textLength="8.4" lengthAdjust="spacingAndGlyphs" font-family="Liberation Sans, sans-serif" >fb</text>
<text x="590.3" y="14.5" font-size="6.4" font-family="Liberation Sans, sans-serif">-1</text>
<circle cx="528.7" cy="27.9" r="2.4" fill="#000"/>
<rect x="522.7" y="33.8" width="12.2" height="6.2" fill="#3a9ad0" stroke="#000" stroke-width="0.8"/>
<rect x="522.7" y="42.7" width="12.2" height="6.2" fill="#ff3838" stroke="#000" stroke-width="0.8"/>
<rect x="522.7" y="51.6" width="12.2" height="6.2" fill="#33cc33" stroke="#000" stroke-width="0.8"/>
<rect x="522.7" y="60.5" width="12.2" height="6.2" fill="#ff9933" stroke="#000" stroke-width="0.8"/>
<rect x="522.7" y="69.4" width="12.2" height="6.2" fill="#9b00b0" stroke="#000" stroke-width="0.8"/>
<rect x="522.7" y="78.4" width="12.2" height="6.2" fill="url(#hatchL)" stroke="#000" stroke-width="0.8"/>
<text x="537.3" y="29.6" font-size="9" textLength="19.6" lengthAdjust="spacingAndGlyphs" font-family="Liberation Sans, sans-serif" >Data</text>
<text x="536.9" y="38.6" font-size="9" textLength="8.6" lengthAdjust="spacingAndGlyphs" font-family="Liberation Sans, sans-serif" font-style="italic">tq</text>
<line x1="537.3" y1="31.6" x2="540.3" y2="31.6" stroke="#333" stroke-width="0.8"/>
<text x="537" y="47" font-size="9" textLength="3.6" lengthAdjust="spacingAndGlyphs" font-family="Liberation Sans, sans-serif" font-style="italic">t</text>
<text x="540.6" y="47" font-size="9" textLength="3.6" lengthAdjust="spacingAndGlyphs" font-family="Liberation Sans, sans-serif" font-style="italic">t</text>
<text x="543.9" y="47" font-size="9" textLength="2.4" lengthAdjust="spacingAndGlyphs" font-family="Liberation Sans, sans-serif" >,</text>
<text x="546.4" y="47" font-size="9" textLength="7.6" lengthAdjust="spacingAndGlyphs" font-family="Liberation Sans, sans-serif" font-style="italic">W</text>
<text x="553.2" y="47" font-size="9" textLength="3.3" lengthAdjust="spacingAndGlyphs" font-family="Liberation Sans, sans-serif" font-style="italic">t</text>
<text x="557.2" y="47" font-size="9" textLength="2.4" lengthAdjust="spacingAndGlyphs" font-family="Liberation Sans, sans-serif" >,</text>
<text x="559.3" y="47" font-size="9" textLength="3.2" lengthAdjust="spacingAndGlyphs" font-family="Liberation Sans, sans-serif" font-style="italic">t</text>
<text x="562.6" y="47" font-size="9" textLength="6" lengthAdjust="spacingAndGlyphs" font-family="Liberation Sans, sans-serif" font-style="italic">b</text>
<line x1="559.6" y1="40.6" x2="562.5" y2="40.6" stroke="#333" stroke-width="0.8"/>
<line x1="541.3" y1="41.0" x2="544.3" y2="41.0" stroke="#888" stroke-width="0.5"/>
<text x="537.6" y="56.3" font-size="9" textLength="10.2" lengthAdjust="spacingAndGlyphs" font-family="Liberation Sans, sans-serif" font-style="italic">W</text>
<line x1="548.4" y1="49.9" x2="550.2" y2="49.9" stroke="#444" stroke-width="0.6"/>
<text x="551.2" y="56.3" font-size="9" textLength="19.2" lengthAdjust="spacingAndGlyphs" font-family="Liberation Sans, sans-serif" >+jets</text>
<text x="537.6" y="65.5" font-size="9" textLength="6.4" lengthAdjust="spacingAndGlyphs" font-family="Liberation Sans, sans-serif" font-style="italic">Z</text>
<text x="544.5" y="65.5" font-size="9" textLength="2.4" lengthAdjust="spacingAndGlyphs" font-family="Liberation Sans, sans-serif" >,</text>
<text x="546.6" y="65.5" font-size="9" textLength="13" lengthAdjust="spacingAndGlyphs" font-family="Liberation Sans, sans-serif" font-style="italic">VV</text>
<text x="559.8" y="65.5" font-size="9" textLength="20" lengthAdjust="spacingAndGlyphs" font-family="Liberation Sans, sans-serif" >+jets</text>
<text x="537.3" y="74.1" font-size="9" textLength="29.6" lengthAdjust="spacingAndGlyphs" font-family="Liberation Sans, sans-serif" >Multijet</text>
<text x="537.3" y="83" font-size="9" textLength="49" lengthAdjust="spacingAndGlyphs" font-family="Liberation Sans, sans-serif" >Post-fit unc.</text>
<text x="576.9" y="240.5" font-size="9.8" font-style="italic" textLength="7.9" lengthAdjust="spacingAndGlyphs" stroke="#000" stroke-width="0.4" font-family="Liberation Sans, sans-serif">O</text>
<text x="584.4" y="245.2" font-size="8.3" textLength="19.2" lengthAdjust="spacingAndGlyphs" stroke="#000" stroke-width="0.15" font-family="Liberation Sans, sans-serif">NN2</text>
<text x="486.8" y="260.6" font-size="16.6" font-weight="bold" text-anchor="middle" font-family="Liberation Serif, serif">(b)</text></svg></body></html>
